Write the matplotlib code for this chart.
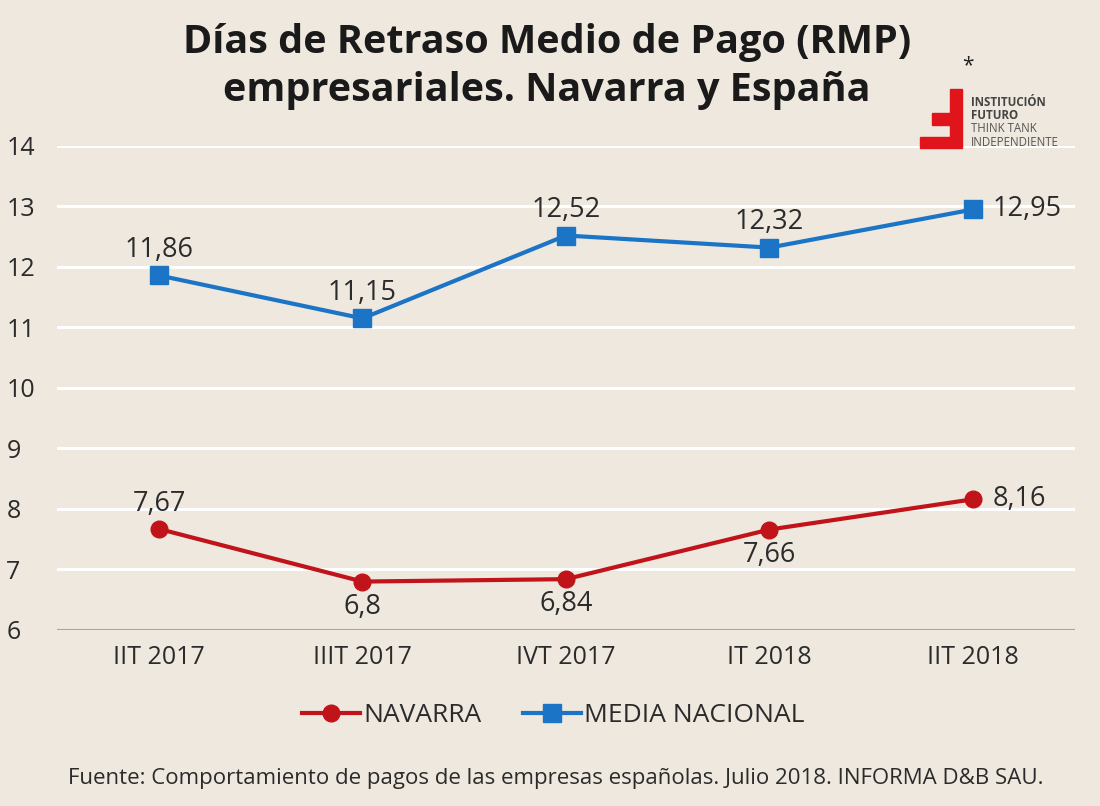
import matplotlib.pyplot as plt
import matplotlib.patches as patches

periods = ["IIT 2017", "IIIT 2017", "IVT 2017", "IT 2018", "IIT 2018"]
navarra = [7.67, 6.8, 6.84, 7.66, 8.16]
media = [11.86, 11.15, 12.52, 12.32, 12.95]
nav_label_pos = ["above", "below", "below", "below", "right"]
media_label_pos = ["above", "above", "above", "above", "right"]

BG = "#eee8de"
RED = "#c0141a"
BLUE = "#1c74c6"
TXT = "#2b2b2b"

plt.rcParams['font.family'] = ['Open Sans', 'DejaVu Sans']

fig = plt.figure(figsize=(11, 8.06), dpi=100, facecolor=BG)
ax = fig.add_axes([0.052, 0.2184, 0.925, 0.6005], facecolor=BG)

x = list(range(len(periods)))
for y in range(7, 15):
    ax.axhline(y, color="white", lw=2.2, zorder=1)
ax.axhline(6, color="#a9a49c", lw=1.5, zorder=1)

ax.plot(x, navarra, color=RED, lw=3, marker="o", ms=12, zorder=3, label="NAVARRA")
ax.plot(x, media, color=BLUE, lw=3, marker="s", ms=13, zorder=3, label="MEDIA NACIONAL")

def fmt(v):
    return ("%g" % v).replace(".", ",")

def put_labels(vals, where):
    for xi, v, w in zip(x, vals, where):
        if w == "above":
            ax.annotate(fmt(v), (xi, v), xytext=(0, 8), textcoords="offset points",
                        ha="center", va="bottom", fontsize=19.5, color=TXT)
        elif w == "below":
            ax.annotate(fmt(v), (xi, v), xytext=(0, -8), textcoords="offset points",
                        ha="center", va="top", fontsize=19.5, color=TXT)
        else:
            ax.annotate(fmt(v), (xi, v), xytext=(14, 0), textcoords="offset points",
                        ha="left", va="center", fontsize=19.5, color=TXT)

put_labels(navarra, nav_label_pos)
put_labels(media, media_label_pos)

ax.set_xlim(-0.5, 4.5)
ax.set_ylim(6, 14)
ax.set_yticks(range(6, 15))
ax.set_xticks(x)
ax.set_xticklabels(periods)
ax.tick_params(axis="both", length=0, labelsize=18, colors=TXT)
ax.tick_params(axis="x", pad=11)
ax.tick_params(axis="y", pad=0)
for lbl in ax.get_yticklabels():
    lbl.set_horizontalalignment("left")
    lbl.set_x(-0.05)
for s in ax.spines.values():
    s.set_visible(False)

fig.text(0.497, 0.918, "Días de Retraso Medio de Pago (RMP)\nempresariales. Navarra y España",
         ha="center", va="center", fontsize=28.5, fontweight="bold", color="#1a1a1a",
         linespacing=1.3)

leg = fig.legend(loc="center", bbox_to_anchor=(0.503, 0.112), ncol=2, frameon=False,
                 fontsize=19, handlelength=2.2, columnspacing=1.6, handletextpad=0.1,
                 labelcolor=TXT)

fig.text(0.505, 0.034,
         "Fuente: Comportamiento de pagos de las empresas españolas. Julio 2018. INFORMA D&B SAU.",
         ha="center", va="center", fontsize=16, color=TXT)

# logo
W, H = 1100, 806
def rect(x0, y0, x1, y1):
    fig.patches.append(patches.Rectangle((x0 / W, 1 - y1 / H), (x1 - x0) / W, (y1 - y0) / H,
                                         transform=fig.transFigure, color="#e0151b", zorder=5))
rect(950, 89, 962, 148)
rect(932, 113, 950, 125)
rect(920, 137, 950, 148)
fig.text(968 / W, 1 - 66 / H, "*", fontsize=15, color="#222222", ha="center", va="center")
for i, (t, w, c) in enumerate([("INSTITUCIÓN", "bold", "#444444"), ("FUTURO", "bold", "#444444"),
                               ("THINK TANK", "normal", "#555555"), ("INDEPENDIENTE", "normal", "#555555")]):
    fig.text(971 / W, 1 - (102 + i * 13.5) / H, t, fontsize=8.3, fontweight=w, color=c,
             ha="left", va="center")

fig.savefig("out.png", dpi=100, facecolor=BG)
